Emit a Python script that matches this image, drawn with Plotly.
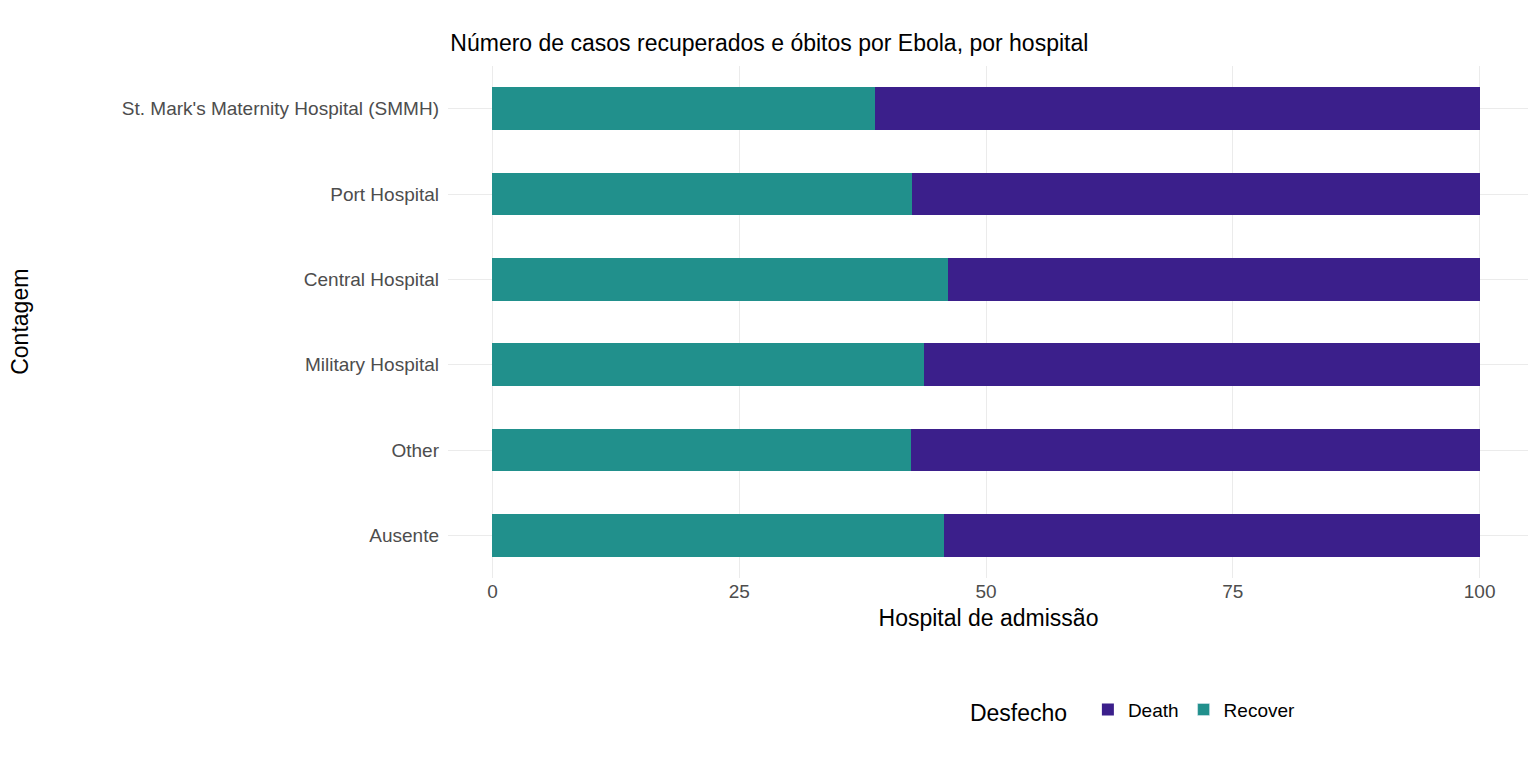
import plotly.graph_objects as go

hospitals = ["Ausente", "Other", "Military Hospital", "Central Hospital",
             "Port Hospital", "St. Mark's Maternity Hospital (SMMH)"]
recover = [45.7, 42.4, 43.7, 46.1, 42.5, 38.8]
death = [100 - r for r in recover]

fig = go.Figure()
fig.add_trace(go.Bar(y=hospitals, x=recover, name="Recover", orientation="h",
                     marker=dict(color="#21908C", line=dict(width=0)), width=0.5,
                     showlegend=False))
fig.add_trace(go.Bar(y=hospitals, x=death, name="Death", orientation="h",
                     marker=dict(color="#3B1F8B", line=dict(width=0)), width=0.5))
# legend entry for Recover after Death
fig.add_trace(go.Bar(y=[None], x=[None], name="Recover", orientation="h",
                     marker=dict(color="#21908C")))

fig.update_layout(
    barmode="stack",
    width=1536, height=768,
    paper_bgcolor="white", plot_bgcolor="white",
    font=dict(family="Liberation Sans, Arial", size=19, color="#4d4d4d"),
    title=dict(text="Número de casos recuperados e óbitos por Ebola, por hospital",
               x=0.288, xanchor="left", y=0.965, font=dict(size=23, color="black")),
    margin=dict(l=440, r=15, t=58, b=198),
    xaxis=dict(range=[-4.5, 105], tickvals=[0, 25, 50, 75, 100],
               showgrid=True, gridcolor="#ebebeb", zeroline=False,
               title=dict(text="Hospital de admissão", standoff=8,
                          font=dict(size=23, color="black"))),
    yaxis=dict(showgrid=True, gridcolor="#ebebeb", ticks="", ticklabelstandoff=8),
    legend=dict(orientation="h", x=0.635, xanchor="center", y=-0.22, yanchor="top",
                title=dict(text="Desfecho  ", font=dict(size=23, color="black")),
                font=dict(size=19, color="black"), traceorder="normal"),
    annotations=[dict(text="Contagem", textangle=-90, xref="paper", yref="paper",
                      x=-0.41, y=0.5, showarrow=False,
                      font=dict(size=23, color="black"))],
)
fig.write_html("out.html")
